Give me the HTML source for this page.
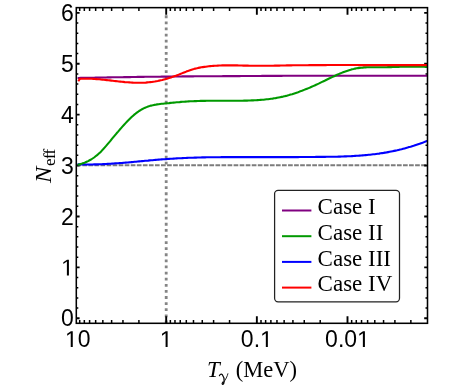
<!DOCTYPE html>
<html><head><meta charset="utf-8"><title>Neff plot</title>
<style>
html,body{margin:0;padding:0;background:#fff;}
body{width:458px;height:392px;overflow:hidden;font-family:"Liberation Sans",sans-serif;}
svg{display:block;will-change:transform;}
</style></head><body>
<svg width="458" height="392" viewBox="0 0 458 392">
<rect width="458" height="392" fill="#fff"/>
<line x1="76.3" y1="165.30" x2="427.5" y2="165.30" stroke="#7c7c7c" stroke-width="2.1" stroke-dasharray="4.7 1.35"/>
<line x1="166.20" y1="15.35" x2="166.20" y2="323.3" stroke="#858585" stroke-width="2.8" stroke-dasharray="2.8 3.303"/>
<path d="M138.91 323.30 v-3.40 M138.91 7.65 v3.40 M122.95 323.30 v-3.40 M122.95 7.65 v3.40 M111.62 323.30 v-3.40 M111.62 7.65 v3.40 M102.84 323.30 v-3.40 M102.84 7.65 v3.40 M95.66 323.30 v-3.40 M95.66 7.65 v3.40 M89.59 323.30 v-3.40 M89.59 7.65 v3.40 M84.33 323.30 v-3.40 M84.33 7.65 v3.40 M79.70 323.30 v-3.40 M79.70 7.65 v3.40 M229.56 323.30 v-3.40 M229.56 7.65 v3.40 M213.60 323.30 v-3.40 M213.60 7.65 v3.40 M202.27 323.30 v-3.40 M202.27 7.65 v3.40 M193.49 323.30 v-3.40 M193.49 7.65 v3.40 M186.31 323.30 v-3.40 M186.31 7.65 v3.40 M180.24 323.30 v-3.40 M180.24 7.65 v3.40 M174.98 323.30 v-3.40 M174.98 7.65 v3.40 M170.35 323.30 v-3.40 M170.35 7.65 v3.40 M320.21 323.30 v-3.40 M320.21 7.65 v3.40 M304.25 323.30 v-3.40 M304.25 7.65 v3.40 M292.92 323.30 v-3.40 M292.92 7.65 v3.40 M284.14 323.30 v-3.40 M284.14 7.65 v3.40 M276.96 323.30 v-3.40 M276.96 7.65 v3.40 M270.89 323.30 v-3.40 M270.89 7.65 v3.40 M265.63 323.30 v-3.40 M265.63 7.65 v3.40 M261.00 323.30 v-3.40 M261.00 7.65 v3.40 M410.86 323.30 v-3.40 M410.86 7.65 v3.40 M394.90 323.30 v-3.40 M394.90 7.65 v3.40 M383.57 323.30 v-3.40 M383.57 7.65 v3.40 M374.79 323.30 v-3.40 M374.79 7.65 v3.40 M367.61 323.30 v-3.40 M367.61 7.65 v3.40 M361.54 323.30 v-3.40 M361.54 7.65 v3.40 M356.28 323.30 v-3.40 M356.28 7.65 v3.40 M351.65 323.30 v-3.40 M351.65 7.65 v3.40 M76.30 308.07 h2.00 M427.50 308.07 h-2.00 M76.30 297.89 h2.00 M427.50 297.89 h-2.00 M76.30 287.71 h2.00 M427.50 287.71 h-2.00 M76.30 277.53 h2.00 M427.50 277.53 h-2.00 M76.30 257.17 h2.00 M427.50 257.17 h-2.00 M76.30 246.99 h2.00 M427.50 246.99 h-2.00 M76.30 236.81 h2.00 M427.50 236.81 h-2.00 M76.30 226.63 h2.00 M427.50 226.63 h-2.00 M76.30 206.27 h2.00 M427.50 206.27 h-2.00 M76.30 196.09 h2.00 M427.50 196.09 h-2.00 M76.30 185.91 h2.00 M427.50 185.91 h-2.00 M76.30 175.73 h2.00 M427.50 175.73 h-2.00 M76.30 155.37 h2.00 M427.50 155.37 h-2.00 M76.30 145.19 h2.00 M427.50 145.19 h-2.00 M76.30 135.01 h2.00 M427.50 135.01 h-2.00 M76.30 124.83 h2.00 M427.50 124.83 h-2.00 M76.30 104.47 h2.00 M427.50 104.47 h-2.00 M76.30 94.29 h2.00 M427.50 94.29 h-2.00 M76.30 84.11 h2.00 M427.50 84.11 h-2.00 M76.30 73.93 h2.00 M427.50 73.93 h-2.00 M76.30 53.57 h2.00 M427.50 53.57 h-2.00 M76.30 43.39 h2.00 M427.50 43.39 h-2.00 M76.30 33.21 h2.00 M427.50 33.21 h-2.00 M76.30 23.03 h2.00 M427.50 23.03 h-2.00" stroke="#000" stroke-width="1.5" fill="none"/>
<path d="M166.20 323.30 v-7.00 M166.20 7.65 v7.00 M256.85 323.30 v-7.00 M256.85 7.65 v7.00 M347.50 323.30 v-7.00 M347.50 7.65 v7.00 M76.30 318.25 h3.30 M427.50 318.25 h-3.30 M76.30 267.35 h3.30 M427.50 267.35 h-3.30 M76.30 216.45 h3.30 M427.50 216.45 h-3.30 M76.30 165.55 h3.30 M427.50 165.55 h-3.30 M76.30 114.65 h3.30 M427.50 114.65 h-3.30 M76.30 63.75 h3.30 M427.50 63.75 h-3.30 M76.30 12.85 h3.30 M427.50 12.85 h-3.30" stroke="#000" stroke-width="1.9" fill="none"/>
<g fill="none" stroke-width="2.1" stroke-linejoin="round">
<path d="M77.6 78.0 79.1 78.0 80.6 77.9 82.1 77.9 83.6 77.9 85.1 77.8 86.6 77.8 88.1 77.8 89.6 77.8 91.1 77.7 92.6 77.7 94.1 77.7 95.6 77.6 97.1 77.6 98.6 77.6 100.1 77.6 101.6 77.5 103.1 77.5 104.6 77.5 106.1 77.5 107.6 77.4 109.1 77.4 110.6 77.4 112.1 77.3 113.6 77.3 115.1 77.3 116.6 77.3 118.1 77.2 119.6 77.2 121.1 77.2 122.6 77.2 124.1 77.1 125.6 77.1 127.1 77.1 128.6 77.1 130.1 77.1 131.6 77.0 133.1 77.0 134.6 77.0 136.1 77.0 137.6 76.9 139.1 76.9 140.6 76.9 142.1 76.9 143.6 76.9 145.1 76.8 146.6 76.8 148.1 76.8 149.6 76.8 151.1 76.8 152.6 76.7 154.1 76.7 155.6 76.7 157.1 76.7 158.6 76.7 160.1 76.7 161.6 76.6 163.1 76.6 164.6 76.6 166.1 76.6 167.6 76.6 169.1 76.6 170.6 76.6 172.1 76.5 173.6 76.5 175.1 76.5 176.6 76.5 178.1 76.5 179.6 76.5 181.1 76.5 182.6 76.4 184.1 76.4 185.6 76.4 187.1 76.4 188.6 76.4 190.1 76.4 191.6 76.4 193.1 76.4 194.6 76.3 196.1 76.3 197.6 76.3 199.1 76.3 200.6 76.3 202.1 76.3 203.6 76.3 205.1 76.3 206.6 76.3 208.1 76.2 209.6 76.2 211.1 76.2 212.6 76.2 214.1 76.2 215.6 76.2 217.1 76.2 218.6 76.2 220.1 76.2 221.6 76.2 223.1 76.1 224.6 76.1 226.1 76.1 227.6 76.1 229.1 76.1 230.6 76.1 232.1 76.1 233.6 76.1 235.1 76.1 236.6 76.1 238.1 76.1 239.6 76.1 241.1 76.0 242.6 76.0 244.1 76.0 245.6 76.0 247.1 76.0 248.6 76.0 250.1 76.0 251.6 76.0 253.1 76.0 254.6 76.0 256.1 76.0 257.6 76.0 259.1 76.0 260.6 76.0 262.1 75.9 263.6 75.9 265.1 75.9 266.6 75.9 268.1 75.9 269.6 75.9 271.1 75.9 272.6 75.9 274.1 75.9 275.6 75.9 277.1 75.9 278.6 75.9 280.1 75.9 281.6 75.9 283.1 75.8 284.6 75.8 286.1 75.8 287.6 75.8 289.1 75.8 290.6 75.8 292.1 75.8 293.6 75.8 295.1 75.8 296.6 75.8 298.1 75.8 299.6 75.8 301.1 75.8 302.6 75.8 304.1 75.8 305.6 75.8 307.1 75.8 308.6 75.8 310.1 75.7 311.6 75.7 313.1 75.7 314.6 75.7 316.1 75.7 317.6 75.7 319.1 75.7 320.6 75.7 322.1 75.7 323.6 75.7 325.1 75.7 326.6 75.7 328.1 75.7 329.6 75.7 331.1 75.7 332.6 75.7 334.1 75.7 335.6 75.7 337.1 75.7 338.6 75.7 340.1 75.7 341.6 75.7 343.1 75.7 344.6 75.7 346.1 75.7 347.6 75.7 349.1 75.7 350.6 75.7 352.1 75.7 353.6 75.7 355.1 75.7 356.6 75.7 358.1 75.7 359.6 75.7 361.1 75.7 362.6 75.7 364.1 75.7 365.6 75.7 367.1 75.7 368.6 75.7 370.1 75.7 371.6 75.7 373.1 75.7 374.6 75.7 376.1 75.7 377.6 75.7 379.1 75.7 380.6 75.7 382.1 75.7 383.6 75.7 385.1 75.7 386.6 75.7 388.1 75.7 389.6 75.7 391.1 75.7 392.6 75.7 394.1 75.7 395.6 75.7 397.1 75.7 398.6 75.7 400.1 75.7 401.6 75.7 403.1 75.7 404.6 75.7 406.1 75.7 407.6 75.7 409.1 75.8 410.6 75.8 412.1 75.8 413.6 75.8 415.1 75.8 416.6 75.8 418.1 75.8 419.6 75.8 421.1 75.8 422.6 75.8 424.1 75.8 425.6 75.8 427.1 75.8 427.3 75.8" stroke="#800080"/>
<path d="M77.6 164.3 79.1 164.3 80.6 164.4 82.1 164.4 83.6 164.4 85.1 164.5 86.6 164.5 88.1 164.5 89.6 164.5 91.1 164.5 92.6 164.5 94.1 164.4 95.6 164.4 97.1 164.4 98.6 164.3 100.1 164.3 101.6 164.2 103.1 164.1 104.6 164.1 106.1 164.0 107.6 163.9 109.1 163.8 110.6 163.7 112.1 163.6 113.6 163.5 115.1 163.4 116.6 163.3 118.1 163.2 119.6 163.1 121.1 163.0 122.6 162.9 124.1 162.7 125.6 162.6 127.1 162.5 128.6 162.4 130.1 162.2 131.6 162.1 133.1 162.0 134.6 161.8 136.1 161.7 137.6 161.5 139.1 161.4 140.6 161.3 142.1 161.1 143.6 161.0 145.1 160.8 146.6 160.7 148.1 160.6 149.6 160.4 151.1 160.3 152.6 160.2 154.1 160.0 155.6 159.9 157.1 159.8 158.6 159.6 160.1 159.5 161.6 159.4 163.1 159.3 164.6 159.2 166.1 159.1 167.6 159.0 169.1 158.9 170.6 158.8 172.1 158.7 173.6 158.6 175.1 158.5 176.6 158.4 178.1 158.3 179.6 158.2 181.1 158.2 182.6 158.1 184.1 158.0 185.6 158.0 187.1 157.9 188.6 157.8 190.1 157.8 191.6 157.7 193.1 157.7 194.6 157.6 196.1 157.6 197.6 157.5 199.1 157.5 200.6 157.5 202.1 157.4 203.6 157.4 205.1 157.4 206.6 157.3 208.1 157.3 209.6 157.3 211.1 157.3 212.6 157.2 214.1 157.2 215.6 157.2 217.1 157.2 218.6 157.2 220.1 157.2 221.6 157.1 223.1 157.1 224.6 157.1 226.1 157.1 227.6 157.1 229.1 157.1 230.6 157.1 232.1 157.1 233.6 157.1 235.1 157.1 236.6 157.1 238.1 157.1 239.6 157.1 241.1 157.1 242.6 157.1 244.1 157.1 245.6 157.1 247.1 157.1 248.6 157.1 250.1 157.1 251.6 157.1 253.1 157.1 254.6 157.1 256.1 157.1 257.6 157.1 259.1 157.1 260.6 157.1 262.1 157.1 263.6 157.1 265.1 157.1 266.6 157.1 268.1 157.1 269.6 157.1 271.1 157.1 272.6 157.1 274.1 157.1 275.6 157.1 277.1 157.1 278.6 157.1 280.1 157.1 281.6 157.1 283.1 157.1 284.6 157.1 286.1 157.1 287.6 157.1 289.1 157.1 290.6 157.1 292.1 157.1 293.6 157.1 295.1 157.1 296.6 157.1 298.1 157.1 299.6 157.0 301.1 157.0 302.6 157.0 304.1 157.0 305.6 157.0 307.1 157.0 308.6 157.0 310.1 157.0 311.6 157.0 313.1 157.0 314.6 157.0 316.1 156.9 317.6 156.9 319.1 156.9 320.6 156.9 322.1 156.9 323.6 156.9 325.1 156.9 326.6 156.8 328.1 156.8 329.6 156.8 331.1 156.8 332.6 156.7 334.1 156.7 335.6 156.7 337.1 156.7 338.6 156.6 340.1 156.6 341.6 156.5 343.1 156.5 344.6 156.4 346.1 156.4 347.6 156.3 349.1 156.3 350.6 156.2 352.1 156.1 353.6 156.0 355.1 155.9 356.6 155.8 358.1 155.7 359.6 155.6 361.1 155.5 362.6 155.4 364.1 155.3 365.6 155.1 367.1 155.0 368.6 154.8 370.1 154.7 371.6 154.5 373.1 154.3 374.6 154.2 376.1 154.0 377.6 153.8 379.1 153.6 380.6 153.3 382.1 153.1 383.6 152.9 385.1 152.6 386.6 152.4 388.1 152.1 389.6 151.8 391.1 151.5 392.6 151.2 394.1 150.9 395.6 150.6 397.1 150.3 398.6 149.9 400.1 149.5 401.6 149.2 403.1 148.8 404.6 148.4 406.1 148.0 407.6 147.6 409.1 147.1 410.6 146.7 412.1 146.2 413.6 145.8 415.1 145.3 416.6 144.8 418.1 144.3 419.6 143.8 421.1 143.2 422.6 142.7 424.1 142.1 425.6 141.5 427.1 140.9 427.3 140.9" stroke="#0000ff"/>
<path d="M77.6 164.8 79.1 164.4 80.6 164.0 82.1 163.6 83.6 163.1 85.1 162.5 86.6 161.8 88.1 161.1 89.6 160.3 91.1 159.5 92.6 158.5 94.1 157.5 95.6 156.3 97.1 155.1 98.6 153.8 100.1 152.4 101.6 150.9 103.1 149.3 104.6 147.6 106.1 145.9 107.6 144.1 109.1 142.4 110.6 140.6 112.1 138.7 113.6 136.9 115.1 135.1 116.6 133.3 118.1 131.6 119.6 129.8 121.1 128.1 122.6 126.4 124.1 124.7 125.6 123.1 127.1 121.5 128.6 120.0 130.1 118.5 131.6 117.1 133.1 115.7 134.6 114.4 136.1 113.2 137.6 112.1 139.1 111.0 140.6 110.1 142.1 109.2 143.6 108.4 145.1 107.7 146.6 107.1 148.1 106.5 149.6 106.1 151.1 105.6 152.6 105.3 154.1 104.9 155.6 104.7 157.1 104.4 158.6 104.2 160.1 104.0 161.6 103.8 163.1 103.7 164.6 103.5 166.1 103.4 167.6 103.2 169.1 103.1 170.6 102.9 172.1 102.8 173.6 102.6 175.1 102.5 176.6 102.3 178.1 102.2 179.6 102.1 181.1 101.9 182.6 101.8 184.1 101.7 185.6 101.6 187.1 101.5 188.6 101.4 190.1 101.3 191.6 101.3 193.1 101.2 194.6 101.1 196.1 101.1 197.6 101.0 199.1 101.0 200.6 100.9 202.1 100.9 203.6 100.9 205.1 100.9 206.6 100.8 208.1 100.8 209.6 100.8 211.1 100.8 212.6 100.8 214.1 100.8 215.6 100.8 217.1 100.8 218.6 100.7 220.1 100.7 221.6 100.7 223.1 100.7 224.6 100.7 226.1 100.7 227.6 100.7 229.1 100.7 230.6 100.7 232.1 100.7 233.6 100.7 235.1 100.7 236.6 100.7 238.1 100.7 239.6 100.7 241.1 100.7 242.6 100.7 244.1 100.6 245.6 100.6 247.1 100.6 248.6 100.5 250.1 100.5 251.6 100.4 253.1 100.4 254.6 100.3 256.1 100.2 257.6 100.1 259.1 100.0 260.6 99.9 262.1 99.8 263.6 99.7 265.1 99.5 266.6 99.3 268.1 99.2 269.6 99.0 271.1 98.8 272.6 98.6 274.1 98.3 275.6 98.1 277.1 97.8 278.6 97.5 280.1 97.2 281.6 96.9 283.1 96.6 284.6 96.2 286.1 95.9 287.6 95.5 289.1 95.1 290.6 94.6 292.1 94.2 293.6 93.7 295.1 93.2 296.6 92.7 298.1 92.2 299.6 91.6 301.1 91.1 302.6 90.5 304.1 89.9 305.6 89.3 307.1 88.7 308.6 88.1 310.1 87.5 311.6 86.8 313.1 86.1 314.6 85.5 316.1 84.8 317.6 84.1 319.1 83.4 320.6 82.6 322.1 81.9 323.6 81.2 325.1 80.5 326.6 79.7 328.1 79.0 329.6 78.3 331.1 77.6 332.6 76.9 334.1 76.2 335.6 75.5 337.1 74.8 338.6 74.1 340.1 73.5 341.6 72.9 343.1 72.3 344.6 71.7 346.1 71.2 347.6 70.7 349.1 70.2 350.6 69.8 352.1 69.3 353.6 69.0 355.1 68.6 356.6 68.3 358.1 68.1 359.6 67.9 361.1 67.7 362.6 67.6 364.1 67.4 365.6 67.4 367.1 67.3 368.6 67.3 370.1 67.2 371.6 67.2 373.1 67.2 374.6 67.2 376.1 67.2 377.6 67.2 379.1 67.2 380.6 67.2 382.1 67.2 383.6 67.2 385.1 67.2 386.6 67.2 388.1 67.1 389.6 67.1 391.1 67.1 392.6 67.0 394.1 67.0 395.6 67.0 397.1 66.9 398.6 66.9 400.1 66.8 401.6 66.8 403.1 66.8 404.6 66.7 406.1 66.7 407.6 66.7 409.1 66.7 410.6 66.7 412.1 66.6 413.6 66.6 415.1 66.6 416.6 66.7 418.1 66.7 419.6 66.7 421.1 66.7 422.6 66.8 424.1 66.8 425.6 66.9 427.1 67.0 427.3 67.0" stroke="#009900"/>
<path d="M78.3 81.2 L79.8 78.9 81.3 78.8 82.8 78.7 84.3 78.7 85.8 78.7 87.3 78.7 88.8 78.7 90.3 78.8 91.8 78.8 93.3 78.9 94.8 79.0 96.3 79.1 97.8 79.2 99.3 79.3 100.8 79.5 102.3 79.6 103.8 79.8 105.3 79.9 106.8 80.1 108.3 80.3 109.8 80.4 111.3 80.6 112.8 80.8 114.3 81.0 115.8 81.1 117.3 81.3 118.8 81.5 120.3 81.6 121.8 81.8 123.3 81.9 124.8 82.1 126.3 82.2 127.8 82.3 129.3 82.4 130.8 82.5 132.3 82.6 133.8 82.7 135.3 82.7 136.8 82.8 138.3 82.8 139.8 82.8 141.3 82.8 142.8 82.7 144.3 82.7 145.8 82.6 147.3 82.4 148.8 82.3 150.3 82.1 151.8 82.0 153.3 81.7 154.8 81.5 156.3 81.2 157.8 81.0 159.3 80.6 160.8 80.3 162.3 80.0 163.8 79.6 165.3 79.2 166.8 78.8 168.3 78.3 169.8 77.8 171.3 77.4 172.8 76.8 174.3 76.3 175.8 75.8 177.3 75.2 178.8 74.6 180.3 74.0 181.8 73.4 183.3 72.8 184.8 72.2 186.3 71.6 187.8 71.1 189.3 70.5 190.8 70.0 192.3 69.5 193.8 69.1 195.3 68.6 196.8 68.3 198.3 67.9 199.8 67.6 201.3 67.3 202.8 67.1 204.3 66.9 205.8 66.7 207.3 66.5 208.8 66.3 210.3 66.1 211.8 66.0 213.3 65.9 214.8 65.8 216.3 65.7 217.8 65.6 219.3 65.5 220.8 65.5 222.3 65.4 223.8 65.4 225.3 65.4 226.8 65.4 228.3 65.3 229.8 65.4 231.3 65.4 232.8 65.4 234.3 65.4 235.8 65.4 237.3 65.4 238.8 65.5 240.3 65.5 241.8 65.5 243.3 65.6 244.8 65.6 246.3 65.6 247.8 65.6 249.3 65.7 250.8 65.7 252.3 65.7 253.8 65.7 255.3 65.7 256.8 65.7 258.3 65.7 259.8 65.7 261.3 65.7 262.8 65.7 264.3 65.7 265.8 65.7 267.3 65.7 268.8 65.7 270.3 65.7 271.8 65.7 273.3 65.7 274.8 65.6 276.3 65.6 277.8 65.6 279.3 65.6 280.8 65.5 282.3 65.5 283.8 65.5 285.3 65.5 286.8 65.4 288.3 65.4 289.8 65.4 291.3 65.4 292.8 65.3 294.3 65.3 295.8 65.3 297.3 65.3 298.8 65.3 300.3 65.2 301.8 65.2 303.3 65.2 304.8 65.2 306.3 65.2 307.8 65.2 309.3 65.1 310.8 65.1 312.3 65.1 313.8 65.1 315.3 65.1 316.8 65.1 318.3 65.1 319.8 65.1 321.3 65.1 322.8 65.1 324.3 65.1 325.8 65.1 327.3 65.0 328.8 65.0 330.3 65.0 331.8 65.0 333.3 65.0 334.8 65.0 336.3 65.0 337.8 65.0 339.3 65.0 340.8 65.0 342.3 65.0 343.8 65.0 345.3 65.0 346.8 65.0 348.3 65.0 349.8 65.0 351.3 65.0 352.8 65.0 354.3 65.0 355.8 65.0 357.3 65.0 358.8 65.1 360.3 65.1 361.8 65.1 363.3 65.1 364.8 65.1 366.3 65.1 367.8 65.1 369.3 65.1 370.8 65.1 372.3 65.1 373.8 65.1 375.3 65.1 376.8 65.1 378.3 65.1 379.8 65.1 381.3 65.1 382.8 65.1 384.3 65.1 385.8 65.1 387.3 65.1 388.8 65.1 390.3 65.1 391.8 65.1 393.3 65.1 394.8 65.1 396.3 65.1 397.8 65.1 399.3 65.1 400.8 65.1 402.3 65.1 403.8 65.1 405.3 65.1 406.8 65.1 408.3 65.1 409.8 65.1 411.3 65.1 412.8 65.1 414.3 65.1 415.8 65.1 417.3 65.1 418.8 65.1 420.3 65.1 421.8 65.1 423.3 65.1 424.8 65.1 426.3 65.1 427.3 65.1" stroke="#ff0000"/>
</g>
<rect x="76.30" y="7.65" width="351.20" height="315.65" fill="none" stroke="#000" stroke-width="1.55"/>
<g font-family="Liberation Sans, sans-serif" fill="#000">
<text x="61.11" y="326.35" font-size="23">0</text>
<path d="M66.89 275.45 L66.89 261.56 L63.32 264.11 L63.32 262.20 L67.06 259.63 L68.92 259.63 L68.92 275.45 Z"/>
<text x="61.11" y="224.55" font-size="23">2</text>
<text x="61.11" y="173.65" font-size="23">3</text>
<text x="61.11" y="122.75" font-size="23">4</text>
<text x="61.11" y="71.85" font-size="23">5</text>
<text x="61.11" y="20.95" font-size="23">6</text>
<path d="M70.74 347.10 L70.74 333.21 L67.17 335.76 L67.17 333.85 L70.91 331.28 L72.77 331.28 L72.77 347.10 Z"/><text x="77.75" y="347.10" font-size="23">0</text>
<path d="M165.59 347.10 L165.59 333.21 L162.02 335.76 L162.02 333.85 L165.76 331.28 L167.62 331.28 L167.62 347.10 Z"/>
<text x="240.86" y="347.10" font-size="23">0.</text><path d="M265.83 347.10 L265.83 333.21 L262.26 335.76 L262.26 333.85 L266.00 331.28 L267.86 331.28 L267.86 347.10 Z"/>
<text x="325.12" y="347.10" font-size="23">0.0</text><path d="M362.87 347.10 L362.87 333.21 L359.30 335.76 L359.30 333.85 L363.04 331.28 L364.91 331.28 L364.91 347.10 Z"/>
</g>
<g font-family="Liberation Serif, serif" fill="#000">
<text x="207.0" y="377.4" font-size="23" font-style="italic">T</text>
<text x="235.7" y="377.4" font-size="22.5">(MeV)</text>
<g fill="none" stroke="#000" stroke-linecap="round"><path d="M219.4 375.7 C219.9 374.3 221.3 373.5 222.3 374.7 C223.4 376.1 224.3 379.5 224.1 381.6 C224.0 383.1 223.4 384.3 222.6 384.3 C221.9 384.3 222.0 383.0 222.8 382.0" stroke-width="1.15"/><path d="M227.9 373.7 C227.4 376.2 225.6 379.6 223.4 382.6" stroke-width="0.85"/></g>
<text transform="translate(51,182.9) rotate(-90) scale(1.07,1)" font-size="23" font-style="italic">N</text>
<text transform="translate(55.4,165.9) rotate(-90)" font-size="17" letter-spacing="-0.7">eff</text>
</g>
<rect x="274.6" y="190.3" width="124.9" height="111.5" rx="3.5" ry="3.5" fill="#fff" stroke="#222" stroke-width="1.25"/>
<g font-family="Liberation Serif, serif" font-size="23" fill="#000">
<line x1="282.0" y1="210.5" x2="311.4" y2="210.5" stroke="#800080" stroke-width="2.0"/>
<text x="317.6" y="214.2">Case I</text>
<line x1="282.0" y1="236.2" x2="311.4" y2="236.2" stroke="#009900" stroke-width="2.0"/>
<text x="317.6" y="239.9">Case II</text>
<line x1="282.0" y1="261.9" x2="311.4" y2="261.9" stroke="#0000ff" stroke-width="2.0"/>
<text x="317.6" y="265.6">Case III</text>
<line x1="282.0" y1="287.6" x2="311.4" y2="287.6" stroke="#ff0000" stroke-width="2.0"/>
<text x="317.6" y="291.3">Case IV</text>
</g>
</svg>
</body></html>
